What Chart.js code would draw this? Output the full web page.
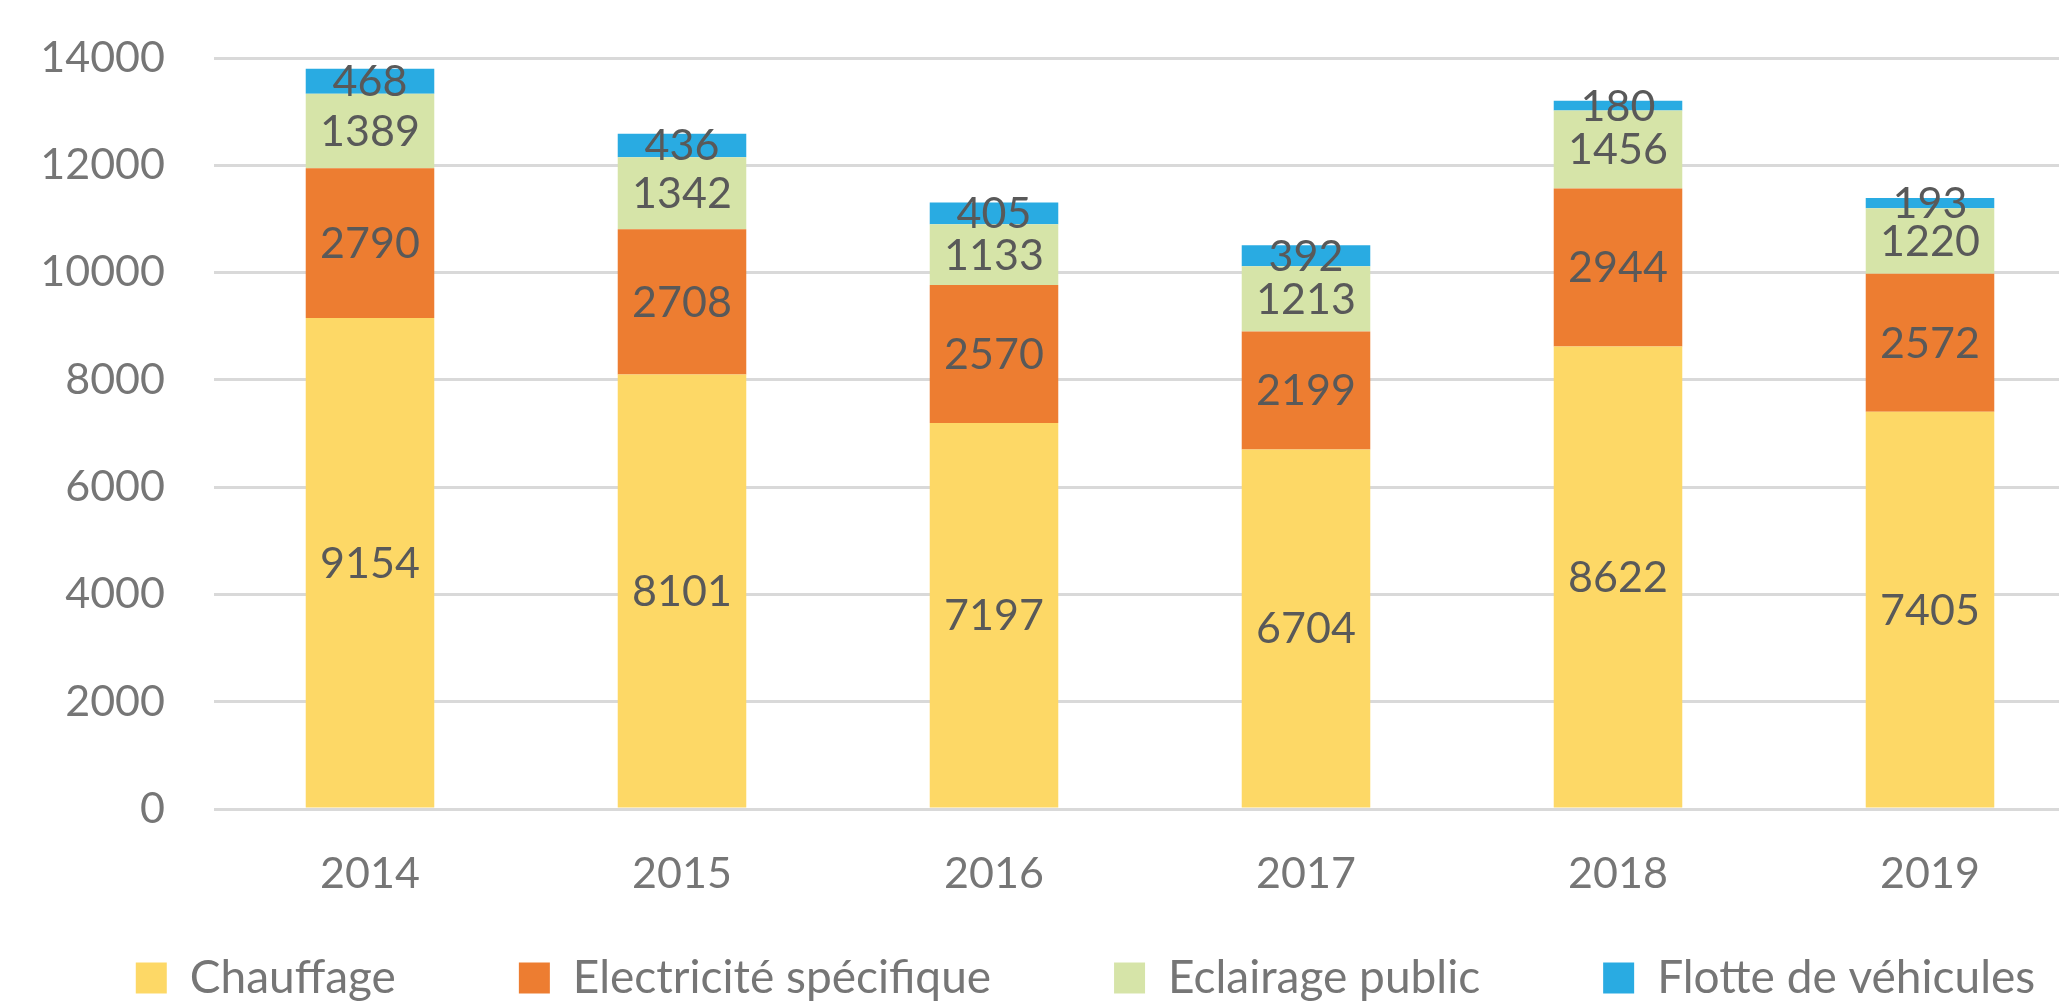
<!DOCTYPE html>
<html>
<head>
<meta charset="utf-8">
<script src="https://cdn.jsdelivr.net/npm/chart.js@4/dist/chart.umd.min.js"></script>
<style>
    html, body { margin: 0; padding: 0; background: #fff; overflow: hidden; }
    #wrap { position: relative; width: 2171px; height: 1007px; }
</style>
</head>
<body>
<div id="wrap"><canvas id="chart"></canvas></div>
<script>
// Data
const years = ["2014", "2015", "2016", "2017", "2018", "2019"];
const chauffage = [9154, 8101, 7197, 6704, 8622, 7405];
const electricite = [2790, 2708, 2570, 2199, 2944, 2572];
const eclairage = [1389, 1342, 1133, 1213, 1456, 1220];
const flotte = [468, 436, 405, 392, 180, 193];
const seriesNames = ["Chauffage", "Electricité spécifique", "Eclairage public", "Flotte de véhicules"];
const yTicks = [0, 2000, 4000, 6000, 8000, 10000, 12000, 14000];

const colors = ['#FDD866', '#ED7D31', '#D6E4A8', '#29ABE2'];
const axisGrey = '#767676';
const labelGrey = '#595959';
const wrapWidth = 2171;
const plotRight = 2086;   // the plot runs a little past the visible window
const legendTop = 832;

Chart.defaults.font.family = 'Lato, "Open Sans", sans-serif';
Chart.defaults.font.size = 43;

// Writes each value in the middle of its bar segment
const valueLabels = {
    id: 'valueLabels',
    afterDatasetsDraw(chart) {
        const ctx = chart.ctx;
        ctx.save();
        ctx.fillStyle = labelGrey;
        ctx.font = '43px Lato, "Open Sans", sans-serif';
        ctx.textAlign = 'center';
        ctx.textBaseline = 'middle';
        chart.data.datasets.forEach((ds, i) => {
            chart.getDatasetMeta(i).data.forEach((bar, j) => {
                const mid = (bar.y + bar.base) / 2;
                ctx.fillText(String(ds.data[j]), bar.x, mid + 1);
            });
        });
        ctx.restore();
    }
};

// The legend keeps wide gaps between items; pull its box up so the
// items sit just under the year labels instead of off the page
const legendLift = {
    id: 'legendLift',
    afterLayout(chart) {
        chart.legend.top = legendTop;
    }
};

const seriesData = [chauffage, electricite, eclairage, flotte];

const ctx = document.getElementById('chart').getContext('2d');
new Chart(ctx, {
    type: 'bar',
    data: {
        labels: years,
        datasets: seriesData.map((values, i) => ({
            label: seriesNames[i],
            data: values,
            backgroundColor: colors[i],
            borderWidth: 0,
            categoryPercentage: 1,
            barPercentage: 0.412
        }))
    },
    options: {
        responsive: true,
        maintainAspectRatio: false,
        animation: false,
        layout: { padding: { top: 58, left: 0, right: 0, bottom: 0 } },
        plugins: {
            tooltip: { enabled: false },
            legend: {
                position: 'bottom',
                maxHeight: 98,
                labels: {
                    boxWidth: 31,
                    boxHeight: 31,
                    padding: 123,
                    color: axisGrey,
                    font: { size: 46 }
                }
            }
        },
        scales: {
            x: {
                stacked: true,
                grid: { display: false, drawTicks: false },
                border: { display: false },
                ticks: { color: axisGrey, padding: 39, font: { size: 43 } },
                afterFit: (scale) => { scale.height = 100; }
            },
            y: {
                stacked: true,
                min: 0,
                max: yTicks[yTicks.length - 1],
                afterBuildTicks: (scale) => { scale.ticks = yTicks.map(v => ({ value: v })); },
                grid: { color: '#D9D9D9', lineWidth: 3, tickLength: 17, tickColor: 'rgba(0,0,0,0)' },
                border: { display: false },
                ticks: { color: axisGrey, padding: 32, font: { size: 43 }, callback: (v) => String(v) },
                afterFit: (scale) => { scale.width = 214; }
            },
            // empty spacer on the right so the plot ends where the reference's does
            spacer: {
                type: 'linear',
                position: 'right',
                grid: { display: false },
                border: { display: false },
                ticks: { display: false },
                afterFit: (scale) => { scale.width = wrapWidth - plotRight; }
            }
        }
    },
    plugins: [valueLabels, legendLift]
});
</script>
</body>
</html>
